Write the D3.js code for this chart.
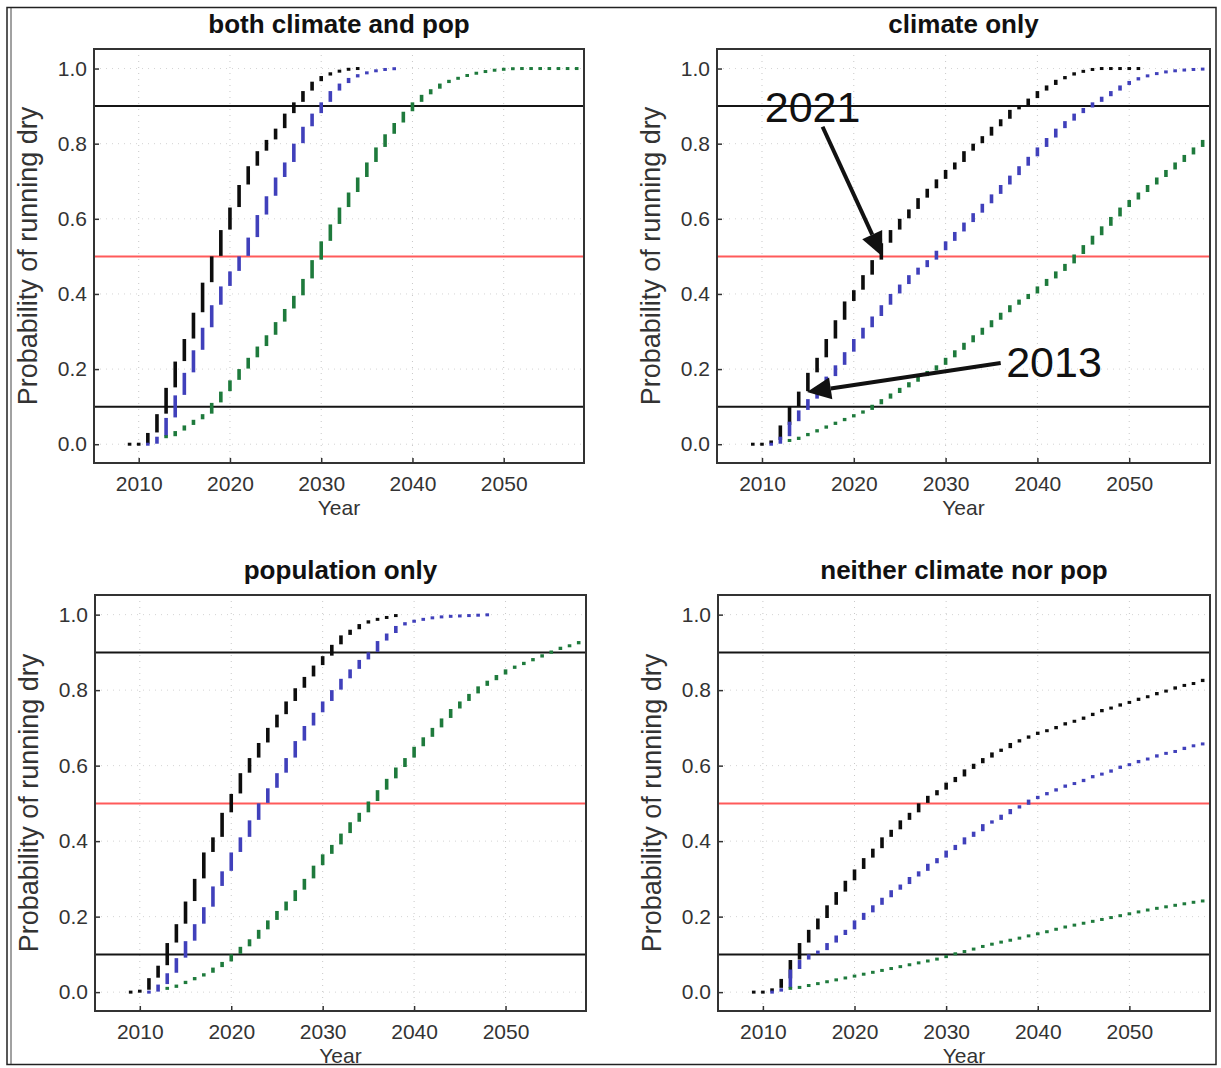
<!DOCTYPE html>
<html>
<head>
<meta charset="utf-8">
<script src="https://cdn.jsdelivr.net/npm/d3@7"></script>
<style>
  body { margin: 0; background: #fff; }
  svg { display: block; font-family: "Liberation Sans", Arial, sans-serif; }
</style>
</head>
<body>
<svg id="fig" width="1221" height="1068"></svg>
<script>
// axes
var xTicks = [2010, 2020, 2030, 2040, 2050];
var yTicks = [0, 0.2, 0.4, 0.6, 0.8, 1.0];
var thresholds = [0.1, 0.5, 0.9];
var titles = ["both climate and pop", "climate only", "population only", "neither climate nor pop"];

// first year of each series (black, blue, green)
var startYears = [2009, 2011, 2013];

// both climate and pop
var bothBlack = [0, 0, 0.03, 0.08, 0.15, 0.22, 0.28, 0.35, 0.43, 0.50, 0.57, 0.63, 0.69, 0.74, 0.78, 0.81,
  0.84, 0.88, 0.91, 0.94, 0.965, 0.98, 0.99, 0.996, 1.0, 1.0];
var bothBlue = [0, 0.02, 0.07, 0.13, 0.19, 0.25, 0.31, 0.37, 0.42, 0.46, 0.50, 0.55, 0.61, 0.66, 0.71, 0.75,
  0.80, 0.845, 0.88, 0.91, 0.94, 0.96, 0.975, 0.985, 0.992, 0.996, 0.999, 1.0];
var bothGreen = [0.02, 0.035, 0.05, 0.065, 0.08, 0.11, 0.14, 0.17, 0.20, 0.23, 0.26, 0.29, 0.325, 0.36, 0.395,
  0.44, 0.49, 0.54, 0.585, 0.63, 0.67, 0.71, 0.75, 0.79, 0.825, 0.855, 0.885, 0.91, 0.93, 0.945,
  0.96, 0.97, 0.978, 0.985, 0.99, 0.994, 0.997, 0.999, 1, 1, 1, 1, 1, 1, 1, 1];

// climate only
var climBlack = [0, 0, 0.01, 0.05, 0.10, 0.14, 0.19, 0.23, 0.28, 0.33, 0.38, 0.41, 0.45, 0.49, 0.535, 0.57,
  0.60, 0.625, 0.655, 0.68, 0.705, 0.73, 0.75, 0.78, 0.80, 0.82, 0.845, 0.865, 0.89, 0.90, 0.92, 0.94,
  0.955, 0.97, 0.98, 0.99, 0.995, 1, 1, 1, 1, 1, 1];
var climBlue = [0, 0.02, 0.06, 0.09, 0.12, 0.15, 0.18, 0.21, 0.245, 0.28, 0.31, 0.34, 0.37, 0.40, 0.425, 0.45,
  0.47, 0.49, 0.515, 0.54, 0.565, 0.59, 0.615, 0.64, 0.665, 0.69, 0.715, 0.74, 0.765, 0.79, 0.815, 0.84,
  0.86, 0.88, 0.895, 0.91, 0.925, 0.94, 0.955, 0.967, 0.977, 0.984, 0.989, 0.993, 0.995, 0.997, 0.998, 0.999];
var climGreen = [0.01, 0.02, 0.03, 0.04, 0.05, 0.06, 0.07, 0.08, 0.09, 0.105, 0.12, 0.135, 0.15, 0.165, 0.18,
  0.195, 0.21, 0.23, 0.25, 0.27, 0.29, 0.31, 0.33, 0.35, 0.37, 0.385, 0.40, 0.42, 0.44, 0.46, 0.48, 0.505,
  0.53, 0.555, 0.58, 0.605, 0.63, 0.65, 0.67, 0.69, 0.71, 0.73, 0.75, 0.77, 0.79, 0.81];

// population only
var popBlack = [0, 0.005, 0.037, 0.07, 0.13, 0.18, 0.24, 0.30, 0.37, 0.41, 0.475, 0.525, 0.58, 0.62, 0.66, 0.70,
  0.735, 0.77, 0.805, 0.835, 0.865, 0.89, 0.92, 0.945, 0.96, 0.975, 0.985, 0.99, 0.995, 1.0];
var popBlue = [0, 0.02, 0.05, 0.09, 0.135, 0.18, 0.225, 0.28, 0.32, 0.37, 0.41, 0.455, 0.50, 0.54, 0.58, 0.62,
  0.665, 0.705, 0.74, 0.77, 0.80, 0.83, 0.855, 0.88, 0.90, 0.93, 0.95, 0.97, 0.98, 0.985, 0.99, 0.993,
  0.995, 0.996, 0.997, 0.998, 0.999, 1.0];
var popGreen = [0.01, 0.02, 0.03, 0.04, 0.05, 0.065, 0.08, 0.10, 0.12, 0.14, 0.165, 0.19, 0.215, 0.24, 0.27,
  0.30, 0.335, 0.365, 0.39, 0.42, 0.45, 0.475, 0.505, 0.535, 0.565, 0.595, 0.62, 0.65, 0.675, 0.70, 0.725,
  0.75, 0.77, 0.79, 0.81, 0.825, 0.84, 0.855, 0.865, 0.875, 0.885, 0.895, 0.905, 0.915, 0.92, 0.93];

// neither climate nor pop
var neithBlack = [0, 0, 0.01, 0.035, 0.085, 0.13, 0.165, 0.195, 0.23, 0.265, 0.295, 0.325, 0.355, 0.38, 0.41,
  0.43, 0.455, 0.475, 0.50, 0.52, 0.535, 0.555, 0.57, 0.59, 0.605, 0.62, 0.635, 0.645, 0.66, 0.67, 0.68,
  0.69, 0.695, 0.705, 0.715, 0.72, 0.73, 0.74, 0.75, 0.755, 0.765, 0.77, 0.78, 0.785, 0.795, 0.80, 0.81,
  0.815, 0.82, 0.83];
var neithBlue = [0, 0.01, 0.06, 0.085, 0.10, 0.11, 0.13, 0.15, 0.165, 0.19, 0.21, 0.23, 0.25, 0.27, 0.285, 0.305,
  0.32, 0.34, 0.355, 0.375, 0.39, 0.41, 0.425, 0.445, 0.455, 0.47, 0.485, 0.495, 0.51, 0.52, 0.53, 0.54,
  0.55, 0.555, 0.565, 0.575, 0.58, 0.59, 0.60, 0.605, 0.615, 0.62, 0.63, 0.635, 0.64, 0.65, 0.655, 0.66];
var neithGreen = [0.01, 0.015, 0.02, 0.025, 0.03, 0.035, 0.04, 0.045, 0.05, 0.055, 0.06, 0.065, 0.07, 0.075,
  0.08, 0.085, 0.09, 0.098, 0.105, 0.11, 0.118, 0.124, 0.13, 0.135, 0.14, 0.146, 0.152, 0.157, 0.163, 0.17,
  0.175, 0.18, 0.185, 0.19, 0.195, 0.2, 0.205, 0.21, 0.215, 0.22, 0.224, 0.228, 0.232, 0.236, 0.24, 0.243];

// annotations in the climate only panel, in (year, probability)
var note2021 = {text: "2021", at: [2010.3, 0.858], from: [2016.6, 0.845], to: [2023.1, 0.50]};
var note2013 = {text: "2013", at: [2036.6, 0.18], from: [2036.0, 0.216], to: [2014.9, 0.139]};

var seriesColors = ["#0d0d0d", "#4040bb", "#1e7a3c"];

var svg = d3.select("#fig");
svg.append("rect").attr("width", 1221).attr("height", 1068).attr("fill", "#fff");

var panels = [
  {box: {x0: 94, x1: 584, y0: 49, y1: 463}, series: [bothBlack, bothBlue, bothGreen]},
  {box: {x0: 717, x1: 1210, y0: 49, y1: 463}, series: [climBlack, climBlue, climGreen], notes: [note2021, note2013]},
  {box: {x0: 95, x1: 586, y0: 595, y1: 1011}, series: [popBlack, popBlue, popGreen]},
  {box: {x0: 718, x1: 1210, y0: 595, y1: 1011}, series: [neithBlack, neithBlue, neithGreen]}
];

panels.forEach(function(p, i) { drawPanel(p, titles[i]); });

// outer frame
svg.append("rect").attr("x", 7).attr("y", 7.5).attr("width", 1209).attr("height", 1057)
  .attr("fill", "none").attr("stroke", "#222").attr("stroke-width", 1.5);
svg.append("line").attr("x1", 11).attr("x2", 11).attr("y1", 8).attr("y2", 1064)
  .attr("stroke", "#444").attr("stroke-width", 1);

function drawPanel(p, title) {
  var b = p.box;
  var g = svg.append("g");
  var x = d3.scaleLinear().domain([2005.1, 2058.8]).range([b.x0, b.x1]);
  var y = d3.scaleLinear().domain([-0.05, 1.052]).range([b.y1, b.y0]);

  // dotted grid
  g.selectAll(null).data(xTicks).enter().append("line")
    .attr("x1", d => x(d)).attr("x2", d => x(d)).attr("y1", b.y0).attr("y2", b.y1)
    .attr("stroke", "#c8c8c8").attr("stroke-width", 1).attr("stroke-dasharray", "1,5");
  g.selectAll(null).data(yTicks).enter().append("line")
    .attr("x1", b.x0).attr("x2", b.x1).attr("y1", d => y(d)).attr("y2", d => y(d))
    .attr("stroke", "#d4d4d4").attr("stroke-width", 1).attr("stroke-dasharray", "1,5");

  // threshold lines
  g.selectAll(null).data(thresholds).enter().append("line")
    .attr("x1", b.x0).attr("x2", b.x1).attr("y1", d => y(d)).attr("y2", d => y(d))
    .attr("stroke", d => d == 0.5 ? "#ff5a5a" : "#151515").attr("stroke-width", 2);

  // stair risers, one per year
  p.series.forEach(function(vals, k) {
    var segs = vals.map(function(v, j) {
      var prev = j ? vals[j - 1] : v;
      return {year: startYears[k] + j, a: y(prev), b: y(v)};
    });
    g.selectAll(null).data(segs).enter().append("rect")
      .attr("x", d => x(d.year) - 1.8)
      .attr("width", 3.6)
      .attr("y", function(d) {
        var h = Math.abs(d.a - d.b);
        return h < 3 ? (d.a + d.b) / 2 - 1.5 : Math.min(d.a, d.b);
      })
      .attr("height", d => Math.max(3, Math.abs(d.a - d.b) - 0.5))
      .attr("fill", seriesColors[k]);
  });

  // box
  g.append("rect").attr("x", b.x0).attr("y", b.y0).attr("width", b.x1 - b.x0).attr("height", b.y1 - b.y0)
    .attr("fill", "none").attr("stroke", "#333").attr("stroke-width", 2);

  var xAxis = d3.axisBottom(x).tickValues(xTicks).tickSize(-5).tickPadding(13).tickFormat(d3.format("d"));
  var yAxis = d3.axisLeft(y).tickValues(yTicks).tickSize(-5).tickPadding(7).tickFormat(d3.format(".1f"));
  var gx = g.append("g").attr("transform", "translate(0," + b.y1 + ")").call(xAxis);
  var gy = g.append("g").attr("transform", "translate(" + b.x0 + ",0)").call(yAxis);
  [gx, gy].forEach(function(a) {
    a.select(".domain").remove();
    a.attr("font-family", null).attr("font-size", null);
    a.selectAll("text").attr("font-size", 21).attr("fill", "#333");
    a.selectAll("line").attr("stroke", "#333").attr("stroke-width", 1.5);
  });

  var cx = (b.x0 + b.x1) / 2, cy = (b.y0 + b.y1) / 2;
  g.append("text").attr("x", cx).attr("y", b.y0 - 16).attr("text-anchor", "middle")
    .attr("font-size", 26).attr("font-weight", "bold").attr("fill", "#111").text(title);
  g.append("text").attr("x", cx).attr("y", b.y1 + 52).attr("text-anchor", "middle")
    .attr("font-size", 21).attr("fill", "#333").text("Year");
  g.append("text").attr("transform", "translate(" + (b.x0 - 66) + "," + cy + ") rotate(-90)")
    .attr("text-anchor", "middle").attr("dominant-baseline", "central")
    .attr("font-size", 27).attr("fill", "#333").text("Probability of running dry");

  (p.notes || []).forEach(function(n) {
    g.append("text").attr("x", x(n.at[0])).attr("y", y(n.at[1]))
      .attr("font-size", 43).attr("fill", "#111").text(n.text);
    drawArrow(g, x(n.from[0]), y(n.from[1]), x(n.to[0]), y(n.to[1]));
  });
}

function drawArrow(g, x1, y1, x2, y2) {
  var dx = x2 - x1, dy = y2 - y1, len = Math.sqrt(dx * dx + dy * dy);
  var ux = dx / len, uy = dy / len, head = 24, half = 11;
  var bx = x2 - ux * head, by = y2 - uy * head;
  g.append("line").attr("x1", x1).attr("y1", y1).attr("x2", bx).attr("y2", by)
    .attr("stroke", "#111").attr("stroke-width", 4);
  g.append("path")
    .attr("d", "M" + x2 + "," + y2 + "L" + (bx - uy * half) + "," + (by + ux * half) +
      "L" + (bx + uy * half) + "," + (by - ux * half) + "Z")
    .attr("fill", "#111");
}
</script>
</body>
</html>
